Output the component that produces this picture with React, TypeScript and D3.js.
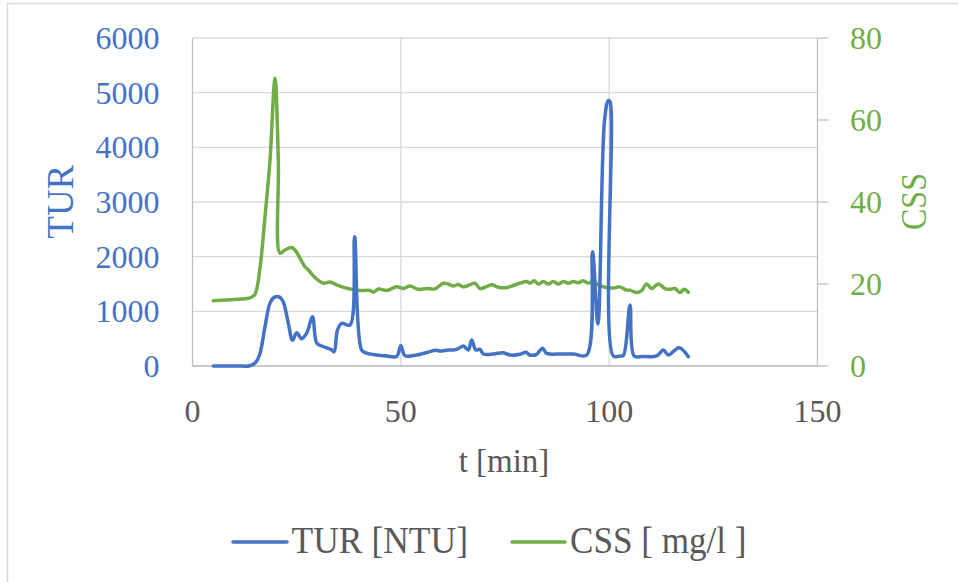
import React from "react";
import * as d3 from "d3";

// Turbidity (NTU) samples: time [min] and value
const turTime = [5, 8, 11, 13.8, 15.2, 16.2, 17.4, 18.6, 19.6, 21, 21.8, 23, 24, 25, 26.2, 27.4, 28.8, 29.8, 31, 33.4, 34, 34.8, 35.8, 37.8, 38.9, 40.6, 41.8, 44.2, 46.6, 49, 50, 51, 53.8, 57, 58.2, 59.4, 61.4, 62.6, 63.8, 65, 66.2, 67, 68, 69, 69.8, 72.2, 74.6, 76.2, 78.6, 80, 81, 82.6, 84, 85, 88.2, 91.4, 94.6, 96, 97.3, 98.9, 99.8, 100.2, 101, 102.6, 103.4, 105, 106, 108, 111.4, 113, 114.2, 116.8, 119];
const turValue = [0, 0, 0, 5, 70, 230, 720, 1150, 1256, 1256, 1170, 780, 470, 610, 500, 600, 900, 420, 366, 295, 262, 660, 780, 750, 2365, 290, 235, 200, 183, 175, 370, 190, 201, 262, 290, 274, 293, 293, 320, 366, 293, 475, 293, 305, 220, 220, 243, 201, 214, 250, 201, 214, 323, 232, 220, 220, 201, 2090, 770, 4500, 4853, 4835, 183, 183, 190, 1116, 183, 175, 183, 293, 201, 335, 170];

// Suspended solids (mg/l) samples: time [min] and value
const cssTime = [5, 8, 11, 13.8, 15, 16.2, 17.4, 18.6, 19.8, 20.6, 21, 22.2, 23.8, 24.6, 27, 27.8, 29.5, 31.4, 33, 34.6, 36.5, 38.6, 40.2, 42.6, 43.4, 44.6, 46.6, 49, 50.6, 52.2, 54.2, 56.2, 58.2, 60.2, 61.8, 62.6, 63.8, 65, 66.6, 67.8, 69, 70.2, 71.8, 73.4, 75.4, 76.6, 78.6, 80.2, 81, 82, 83, 84.2, 85.4, 86.6, 87.8, 89, 90.2, 91.4, 92.6, 93.8, 95, 96, 97.4, 99, 101, 102.6, 104.2, 105, 106.6, 107.8, 109, 110.2, 111.8, 113.4, 114.6, 115.8, 117, 118, 119];
const cssValue = [15.9, 16.1, 16.3, 16.6, 17.5, 24, 36.4, 50.2, 70.2, 50, 27.5, 28.3, 28.9, 28.3, 24.2, 23.4, 21.5, 20.2, 20.5, 19.8, 19.1, 18.6, 18.4, 18.4, 18.0, 18.8, 18.4, 19.3, 18.9, 19.5, 18.7, 18.9, 18.8, 20.2, 19.8, 19.5, 19.9, 19.3, 19.8, 20.2, 18.9, 19.2, 19.8, 19.2, 19.1, 19.5, 20.2, 20.6, 20.2, 20.8, 20.0, 20.6, 20.0, 20.6, 20.0, 20.6, 20.2, 20.6, 20.3, 20.8, 20.2, 20.6, 19.8, 19.2, 19.0, 19.3, 18.5, 18.5, 17.9, 18.4, 20.0, 18.9, 20.0, 18.9, 18.7, 18.9, 17.9, 18.7, 18.0];

const xTicks = [0, 50, 100, 150];
const turTicks = [0, 1000, 2000, 3000, 4000, 5000, 6000];
const cssTicks = [0, 20, 40, 60, 80];

const seriesNames = ["TUR [NTU]", "CSS [ mg/l ]"];
const axisTitles = { x: "t [min]", left: "TUR", right: "CSS" };

const BLUE = "#4472C4";
const GREEN = "#70AD47";
const GRAY_TEXT = "#595959";
const GRID = "#d9d9d9";
const AXIS = "#bfbfbf";
const FONT = "'Liberation Serif', 'Times New Roman', serif";

export default function App() {
  const W = 958;
  const H = 582;
  const left = 192.5;
  const right = 817.5;
  const top = 38;
  const bottom = 366;

  const x = d3.scaleLinear().domain([0, 150]).range([left, right]);
  const yL = d3.scaleLinear().domain([0, 6000]).range([bottom, top]);
  const yR = d3.scaleLinear().domain([0, 80]).range([bottom, top]);

  const curve = d3.curveCatmullRom.alpha(0.5);
  const turLine = d3
    .line<number>()
    .x((_, i) => x(turTime[i]))
    .y((d) => yL(d))
    .curve(curve);
  const cssLine = d3
    .line<number>()
    .x((_, i) => x(cssTime[i]))
    .y((d) => yR(d))
    .curve(curve);

  return (
    <svg
      width={W}
      height={H}
      style={{ position: "absolute", left: 0, top: 0, background: "#fff" }}
      fontFamily={FONT}
    >
      <rect x={7.5} y={3.5} width={980} height={620} fill="#fff" stroke={GRID} strokeWidth={1.5} />

      {/* horizontal gridlines */}
      {turTicks.map((t) => (
        <line key={"h" + t} x1={left} x2={right} y1={yL(t)} y2={yL(t)} stroke={GRID} strokeWidth={1.3} />
      ))}
      {/* vertical gridlines */}
      {xTicks.slice(1, -1).map((t) => (
        <line key={"v" + t} x1={x(t)} x2={x(t)} y1={top} y2={bottom} stroke={GRID} strokeWidth={1.3} />
      ))}

      {/* axis lines */}
      <line x1={left} x2={left} y1={top} y2={bottom} stroke={AXIS} strokeWidth={1.3} />
      <line x1={left} x2={right} y1={bottom} y2={bottom} stroke={AXIS} strokeWidth={1.3} />
      <line x1={right} x2={right} y1={top} y2={bottom} stroke={AXIS} strokeWidth={1.3} />
      {cssTicks.map((t) => (
        <line key={"rt" + t} x1={right} x2={right + 11} y1={yR(t)} y2={yR(t)} stroke={AXIS} strokeWidth={1.3} />
      ))}

      {/* tick labels */}
      {turTicks.map((t) => (
        <text key={"lt" + t} x={159.5} y={yL(t) + 11} textAnchor="end" fontSize={32} fill={BLUE}>
          {t}
        </text>
      ))}
      {cssTicks.map((t) => (
        <text key={"rl" + t} x={850} y={yR(t) + 11} textAnchor="start" fontSize={32} fill={GREEN}>
          {t}
        </text>
      ))}
      {xTicks.map((t) => (
        <text key={"xt" + t} x={x(t)} y={422} textAnchor="middle" fontSize={32} fill={GRAY_TEXT}>
          {t}
        </text>
      ))}

      {/* axis titles */}
      <text x={504} y={472} textAnchor="middle" fontSize={33} fill={GRAY_TEXT}>
        {axisTitles.x}
      </text>
      <text
        transform="translate(73,201.7) rotate(-90)"
        textAnchor="middle"
        fontSize={37}
        fill={BLUE}
      >
        {axisTitles.left}
      </text>
      <text
        transform="translate(926,201.5) rotate(-90)"
        textAnchor="middle"
        fontSize={36}
        textLength={57}
        lengthAdjust="spacingAndGlyphs"
        fill={GREEN}
      >
        {axisTitles.right}
      </text>

      {/* series */}
      <path d={cssLine(cssValue) || ""} fill="none" stroke={GREEN} strokeWidth={3.5} strokeLinejoin="round" strokeLinecap="round" />
      <path d={turLine(turValue) || ""} fill="none" stroke={BLUE} strokeWidth={3.5} strokeLinejoin="round" strokeLinecap="round" />

      {/* legend */}
      <line x1={233} x2={287} y1={542} y2={542} stroke={BLUE} strokeWidth={3.5} strokeLinecap="round" />
      <text x={291.5} y={553} fontSize={38} textLength={176.5} lengthAdjust="spacingAndGlyphs" fill={GRAY_TEXT}>
        {seriesNames[0]}
      </text>
      <line x1={512} x2={565} y1={542} y2={542} stroke={GREEN} strokeWidth={3.5} strokeLinecap="round" />
      <text x={570} y={553} fontSize={38} textLength={176.5} lengthAdjust="spacingAndGlyphs" fill={GRAY_TEXT}>
        {seriesNames[1]}
      </text>
    </svg>
  );
}
